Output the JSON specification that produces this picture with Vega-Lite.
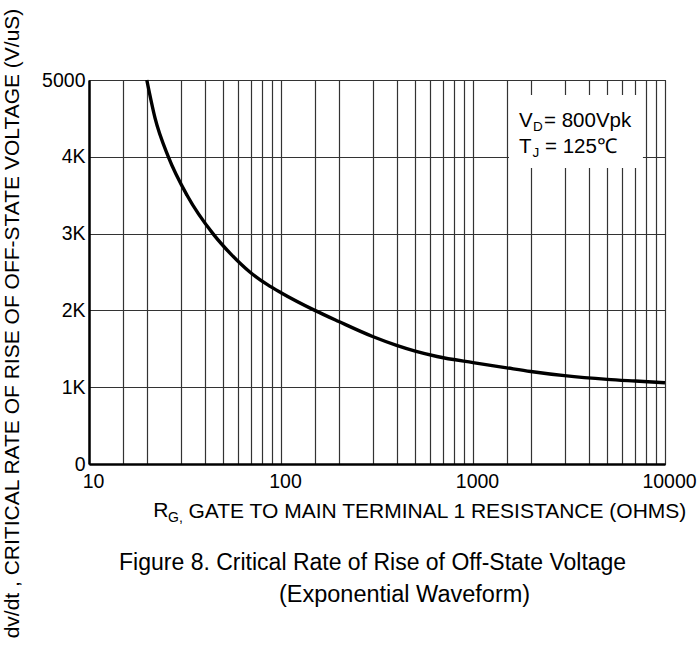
{
  "$schema": "https://vega.github.io/schema/vega-lite/v6.json",
  "width": 576,
  "height": 384,
  "autosize": {"type": "none"},
  "padding": {"left": 89, "top": 80, "right": 33, "bottom": 187},
  "background": "white",
  "config": {
    "font": "Liberation Sans",
    "view": {"stroke": "#000", "strokeWidth": 1}
  },
  "data": {
    "values": [
      {"rg": 20, "dvdt": 5000},
      {"rg": 22.1, "dvdt": 4500},
      {"rg": 25.9, "dvdt": 4000},
      {"rg": 32.4, "dvdt": 3500},
      {"rg": 44.2, "dvdt": 3000},
      {"rg": 55, "dvdt": 2730},
      {"rg": 68.8, "dvdt": 2500},
      {"rg": 85, "dvdt": 2335},
      {"rg": 100, "dvdt": 2230},
      {"rg": 150, "dvdt": 2000},
      {"rg": 200, "dvdt": 1855},
      {"rg": 300, "dvdt": 1660},
      {"rg": 400, "dvdt": 1545},
      {"rg": 500, "dvdt": 1470},
      {"rg": 650, "dvdt": 1400},
      {"rg": 1000, "dvdt": 1320},
      {"rg": 1500, "dvdt": 1252},
      {"rg": 2000, "dvdt": 1205},
      {"rg": 3000, "dvdt": 1150},
      {"rg": 5000, "dvdt": 1102},
      {"rg": 7000, "dvdt": 1080},
      {"rg": 10000, "dvdt": 1058}
    ]
  },
  "layer": [
    {
      "mark": {"type": "line", "color": "#000", "strokeWidth": 3.4, "interpolate": "monotone"},
      "encoding": {
        "x": {
          "field": "rg", "type": "quantitative",
          "scale": {"type": "log", "domain": [10, 10000], "nice": false},
          "axis": {
            "values": [10,15,20,30,40,50,60,70,80,90,100,150,200,300,400,500,600,700,800,900,1000,1500,2000,3000,4000,5000,6000,7000,8000,9000,10000],
            "labelExpr": "(datum.value == 10 || datum.value == 100 || datum.value == 1000 || datum.value == 10000) ? '' + datum.value : ''",
            "labelFontSize": 19.5,
            "labelColor": "#000",
            "labelFlush": false,
            "labelOverlap": false,
            "labelPadding": 8,
            "labelOffset": 4,
            "ticks": false,
            "grid": true,
            "gridColor": "#333",
            "gridWidth": 1.2,
            "gridOpacity": 1,
            "domainColor": "#000",
            "domainWidth": 2.5,
            "title": "GATE TO MAIN TERMINAL 1 RESISTANCE (OHMS)",
            "titleFontSize": 21,
            "titleFontWeight": "normal",
            "titleColor": "#000",
            "titleAnchor": "start",
            "titleAlign": "left",
            "titleBaseline": "alphabetic",
            "titleX": 99,
            "titleY": 53
          }
        },
        "y": {
          "field": "dvdt", "type": "quantitative",
          "scale": {"domain": [0, 5000], "nice": false},
          "axis": {
            "values": [0,500,1000,1500,2000,2500,3000,3500,4000,4500,5000],
            "labelExpr": "datum.value == 5000 ? '5000' : datum.value == 0 ? '0' : (datum.value % 1000 == 0 ? (datum.value / 1000) + 'K' : '')",
            "labelFontSize": 19.5,
            "labelColor": "#000",
            "labelFlush": false,
            "labelOverlap": false,
            "labelPadding": 4,
            "labelOffset": 0,
            "ticks": false,
            "grid": true,
            "gridColor": "#333",
            "gridWidth": 1.2,
            "gridOpacity": 1,
            "domainColor": "#000",
            "domainWidth": 2.5,
            "title": "dv/dt , CRITICAL RATE OF RISE OF OFF-STATE VOLTAGE (V/uS)",
            "titleFontSize": 21,
            "titleFontWeight": "normal",
            "titleColor": "#000",
            "titleAlign": "center",
            "titleBaseline": "middle",
            "titleX": -77,
            "titleY": 243
          }
        }
      }
    },
    {
      "data": {"values": [{}]},
      "mark": {"type": "rect", "fill": "white", "stroke": null},
      "encoding": {
        "x": {"datum": 1540, "type": "quantitative"},
        "x2": {"datum": 7674},
        "y": {"datum": 4805, "type": "quantitative"},
        "y2": {"datum": 3854}
      }
    },
    {
      "data": {"values": [{"t": "V"}]},
      "mark": {"type": "text", "align": "left", "baseline": "alphabetic", "fontSize": 20.5, "color": "#000"},
      "encoding": {"x": {"datum": 1737, "type": "quantitative"}, "y": {"datum": 4392, "type": "quantitative"}, "text": {"field": "t"}}
    },
    {
      "data": {"values": [{"t": "D"}]},
      "mark": {"type": "text", "align": "left", "baseline": "alphabetic", "fontSize": 13.5, "color": "#000"},
      "encoding": {"x": {"datum": 2053, "type": "quantitative"}, "y": {"datum": 4342, "type": "quantitative"}, "text": {"field": "t"}}
    },
    {
      "data": {"values": [{"t": "= 800Vpk"}]},
      "mark": {"type": "text", "align": "left", "baseline": "alphabetic", "fontSize": 20.5, "color": "#000"},
      "encoding": {"x": {"datum": 2344, "type": "quantitative"}, "y": {"datum": 4392, "type": "quantitative"}, "text": {"field": "t"}}
    },
    {
      "data": {"values": [{"t": "T"}]},
      "mark": {"type": "text", "align": "left", "baseline": "alphabetic", "fontSize": 20.5, "color": "#000"},
      "encoding": {"x": {"datum": 1737, "type": "quantitative"}, "y": {"datum": 4046, "type": "quantitative"}, "text": {"field": "t"}}
    },
    {
      "data": {"values": [{"t": "J"}]},
      "mark": {"type": "text", "align": "left", "baseline": "alphabetic", "fontSize": 13.5, "color": "#000"},
      "encoding": {"x": {"datum": 2040, "type": "quantitative"}, "y": {"datum": 3997, "type": "quantitative"}, "text": {"field": "t"}}
    },
    {
      "data": {"values": [{"t": "= 125℃"}]},
      "mark": {"type": "text", "align": "left", "baseline": "alphabetic", "fontSize": 20.5, "color": "#000"},
      "encoding": {"x": {"datum": 2371, "type": "quantitative"}, "y": {"datum": 4046, "type": "quantitative"}, "text": {"field": "t"}}
    },
    {
      "data": {"values": [{"t": "R"}]},
      "mark": {"type": "text", "align": "left", "baseline": "alphabetic", "fontSize": 21, "color": "#000"},
      "encoding": {"x": {"datum": 21.6, "type": "quantitative"}, "y": {"datum": -694, "type": "quantitative"}, "text": {"field": "t"}}
    },
    {
      "data": {"values": [{"t": "G,"}]},
      "mark": {"type": "text", "align": "left", "baseline": "alphabetic", "fontSize": 14, "color": "#000"},
      "encoding": {"x": {"datum": 25.8, "type": "quantitative"}, "y": {"datum": -751, "type": "quantitative"}, "text": {"field": "t"}}
    },
    {
      "data": {"values": [{"t": "Figure 8. Critical Rate of Rise of Off-State Voltage"}]},
      "mark": {"type": "text", "align": "center", "baseline": "alphabetic", "fontSize": 23, "color": "#000"},
      "encoding": {"x": {"datum": 300, "type": "quantitative"}, "y": {"datum": -1380, "type": "quantitative"}, "text": {"field": "t"}}
    },
    {
      "data": {"values": [{"t": "(Exponential Waveform)"}]},
      "mark": {"type": "text", "align": "center", "baseline": "alphabetic", "fontSize": 23.5, "color": "#000"},
      "encoding": {"x": {"datum": 440, "type": "quantitative"}, "y": {"datum": -1797, "type": "quantitative"}, "text": {"field": "t"}}
    }
  ]
}
